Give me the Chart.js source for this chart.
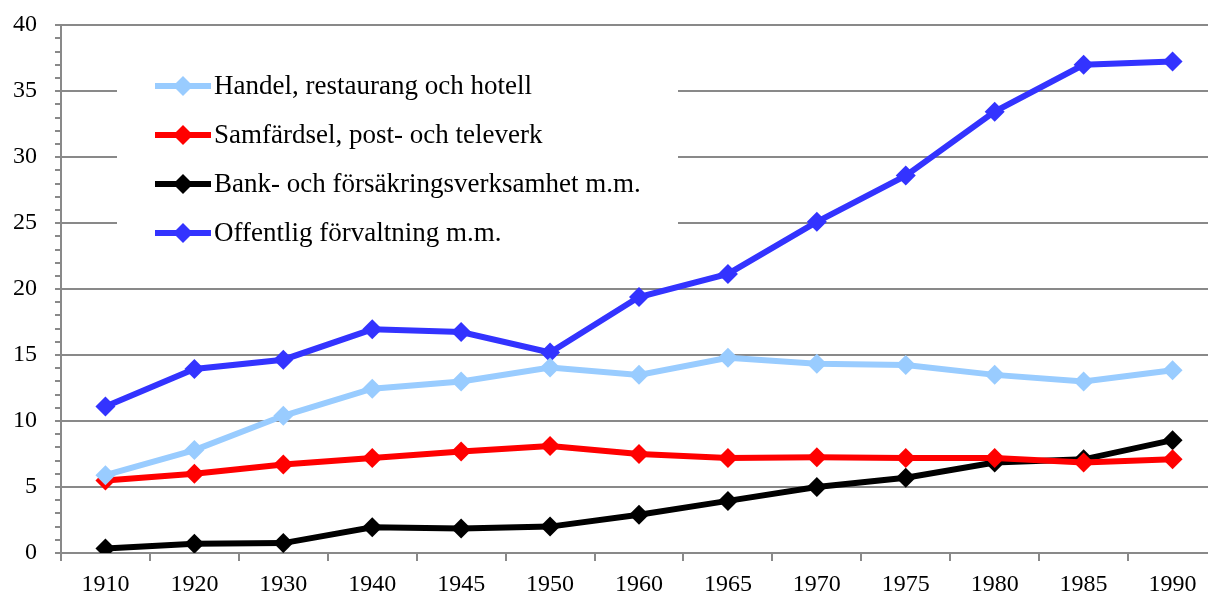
<!DOCTYPE html>
<html>
<head>
<meta charset="utf-8">
<script src="https://cdn.jsdelivr.net/npm/chart.js@4.4.1/dist/chart.umd.min.js"></script>
<style>
  html, body { margin: 0; padding: 0; background: #fff; overflow: hidden; }
  #wrap { width: 1208px; height: 595px; overflow: hidden; }
</style>
</head>
<body>
<div id="wrap"><canvas id="chart" width="1227" height="595"></canvas></div>
<script>
// ===== data =====
const years = ["1910", "1920", "1930", "1940", "1945", "1950", "1960", "1965", "1970", "1975", "1980", "1985", "1990"];
const handel = [5.9, 7.8, 10.4, 12.45, 13.0, 14.05, 13.5, 14.8, 14.35, 14.25, 13.5, 13.0, 13.85];
const samfardsel = [5.5, 6.0, 6.7, 7.2, 7.7, 8.1, 7.5, 7.2, 7.25, 7.2, 7.2, 6.85, 7.1];
const bank = [0.35, 0.7, 0.75, 1.95, 1.85, 2.0, 2.9, 3.95, 5.0, 5.7, 6.85, 7.1, 8.55];
const offentlig = [11.1, 13.95, 14.65, 16.95, 16.75, 15.2, 19.4, 21.15, 25.1, 28.6, 33.45, 37.0, 37.25];

const FONT = "'Liberation Serif', 'Times New Roman', serif";
const GRID = "#898989";

function series(label, data, color) {
  return {
    label, data,
    borderColor: color, backgroundColor: color,
    borderWidth: 6,
    pointStyle: "rectRot", pointRadius: 10, pointBorderWidth: 0,
    pointBackgroundColor: color,
    tension: 0,
  };
}

// ===== legend inside plot (white box over gridlines) =====
const boxLegend = {
  id: "boxLegend",
  afterDraw(chart) {
    const ctx = chart.ctx;
    ctx.save();
    ctx.fillStyle = "#fff";
    ctx.fillRect(117, 50, 561, 220);
    ctx.font = "27px " + FONT;
    ctx.textBaseline = "middle";
    chart.data.datasets.forEach((ds, i) => {
      const y = 86 + i * 49;
      ctx.strokeStyle = ds.borderColor;
      ctx.lineWidth = 6;
      ctx.beginPath();
      ctx.moveTo(155, y);
      ctx.lineTo(211, y);
      ctx.stroke();
      ctx.fillStyle = ds.borderColor;
      ctx.beginPath();
      ctx.moveTo(183, y - 10); ctx.lineTo(193, y); ctx.lineTo(183, y + 10); ctx.lineTo(173, y);
      ctx.closePath();
      ctx.fill();
      ctx.fillStyle = "#000";
      ctx.fillText(ds.label, 214, y + 1);
    });
    ctx.restore();
  }
};

new Chart(document.getElementById("chart"), {
  type: "line",
  data: {
    labels: years,
    datasets: [
      series("Handel, restaurang och hotell", handel, "#99CCFF"),
      series("Samfärdsel, post- och televerk", samfardsel, "#FF0000"),
      series("Bank- och försäkringsverksamhet m.m.", bank, "#000000"),
      series("Offentlig förvaltning m.m.", offentlig, "#3333FF"),
    ],
  },
  options: {
    responsive: false,
    animation: false,
    layout: { padding: { top: 25, right: 2, left: 0, bottom: 0 } },
    plugins: { legend: { display: false }, tooltip: { enabled: false } },
    scales: {
      x: {
        offset: true,
        grid: { offset: true, drawOnChartArea: false, color: GRID, lineWidth: 2, tickLength: 8 },
        border: { color: GRID, width: 2 },
        ticks: { color: "#000", font: { family: FONT, size: 24 }, padding: 9, maxRotation: 0 },
        afterFit: (s) => { s.height = 42; },
      },
      y: {
        min: 0, max: 40,
        grid: {
          color: (c) => (c.tick && c.tick.value % 5 === 0 ? GRID : "rgba(0,0,0,0)"),
          tickColor: GRID,
          lineWidth: 2,
          tickLength: 6,
        },
        border: { color: GRID, width: 2 },
        ticks: {
          stepSize: 1,
          autoSkip: false,
          color: "#000",
          font: { family: FONT, size: 24, lineHeight: 0.6 },
          padding: 18,
          callback: (v) => (v % 5 === 0 ? v : ""),
        },
        afterFit: (s) => { s.width = 61; },
      },
    },
  },
  plugins: [boxLegend],
});
</script>
</body>
</html>
